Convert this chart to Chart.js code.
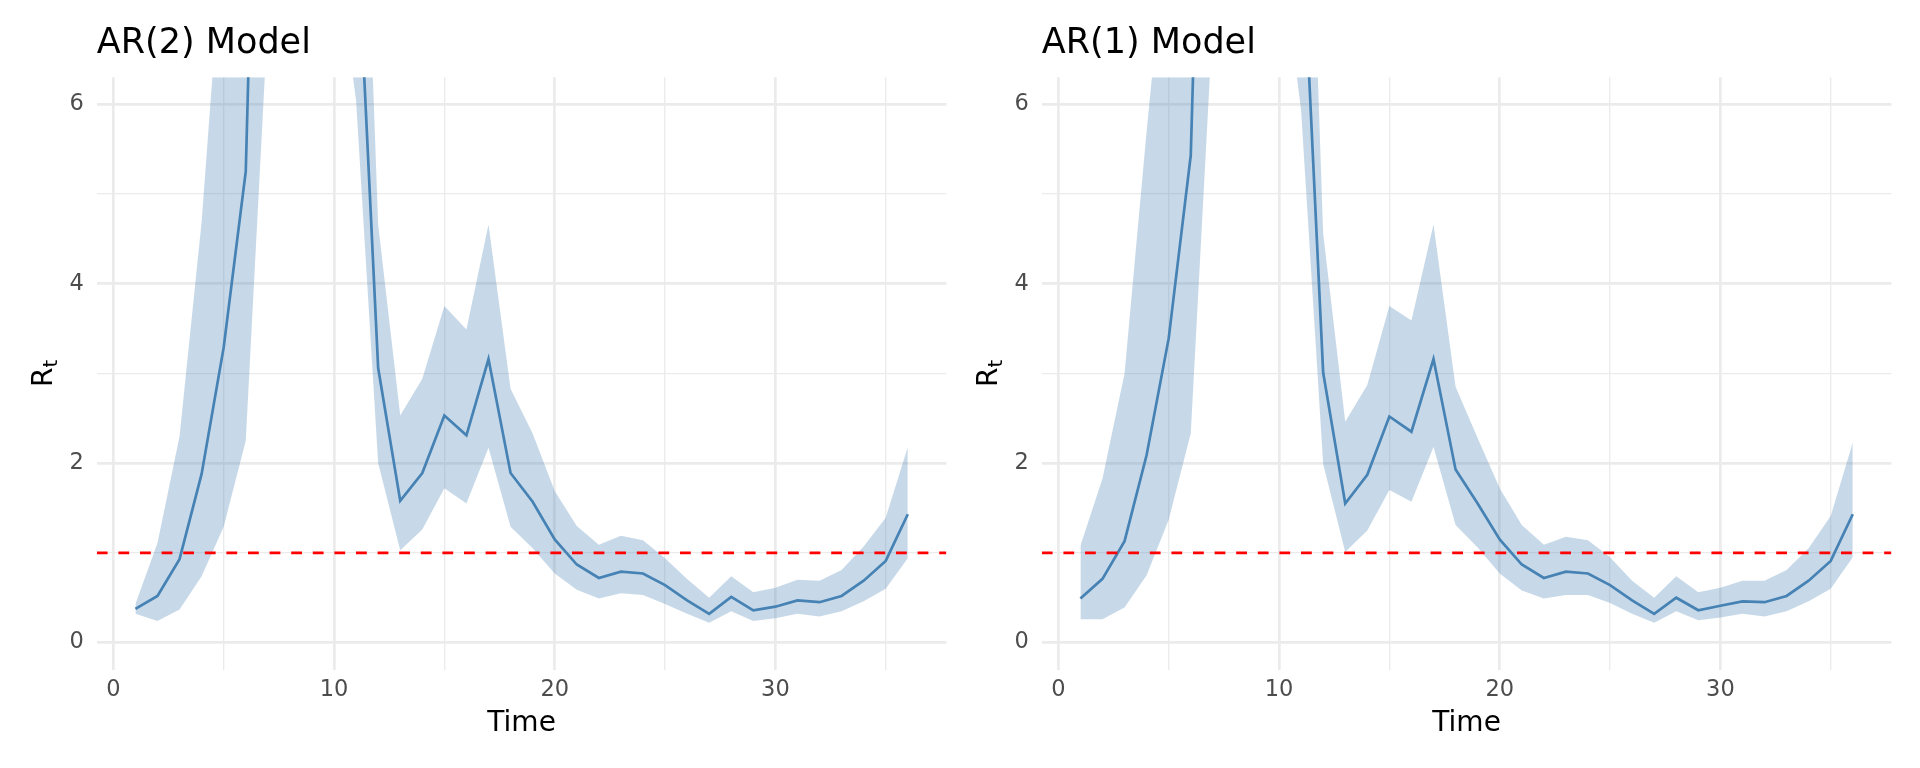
<!DOCTYPE html>
<html lang="en">
<head>
  <meta charset="UTF-8">
  <title>Rt – AR(2) vs AR(1)</title>
  <script src="https://cdn.jsdelivr.net/npm/chart.js"></script>
  <style>
    body { margin: 0; background: #fff; }
    #wrap { position: relative; width: 1920px; height: 768px; overflow: hidden; }
    canvas { position: absolute; top: 0; }
    #ar2 { left: 0; }
    #ar1 { left: 945px; }
  </style>
</head>
<body>
  <div id="wrap">
    <canvas id="ar2" width="960" height="768"></canvas>
    <canvas id="ar1" width="960" height="768"></canvas>
  </div>

  <script>
    const time = [1, 2, 3, 4, 5, 6, 7, 8, 9, 10, 11, 12, 13, 14, 15, 16, 17, 18,
                  19, 20, 21, 22, 23, 24, 25, 26, 27, 28, 29, 30, 31, 32, 33, 34, 35, 36];

    // AR(2) posterior mean and interval (values above 6.3 fall outside the panel)
    const ar2Mean  = [0.375, 0.52, 0.93, 1.88, 3.29, 5.25, 14.5, 22, 26, 18, 8.2, 3.06,
                      1.58, 1.89, 2.53, 2.31, 3.16, 1.89, 1.57, 1.15, 0.87, 0.72, 0.79, 0.77,
                      0.64, 0.47, 0.32, 0.51, 0.36, 0.40, 0.47, 0.45, 0.52, 0.69, 0.91, 1.43];
    const ar2Upper = [0.43, 1.11, 2.30, 4.69, 8.0, 14, 30, 45, 50, 38, 11.5, 4.66,
                      2.53, 2.94, 3.75, 3.49, 4.66, 2.83, 2.33, 1.69, 1.30, 1.09, 1.19, 1.14,
                      0.94, 0.71, 0.50, 0.74, 0.56, 0.61, 0.70, 0.69, 0.81, 1.07, 1.39, 2.18];
    const ar2Lower = [0.32, 0.24, 0.37, 0.74, 1.29, 2.25, 6.95, 12, 14, 7.9, 6.04, 2.0,
                      1.03, 1.26, 1.72, 1.55, 2.17, 1.29, 1.05, 0.77, 0.59, 0.49, 0.55, 0.53,
                      0.43, 0.32, 0.22, 0.35, 0.24, 0.27, 0.32, 0.29, 0.35, 0.46, 0.60, 0.94];

    // AR(1)
    const ar1Mean  = [0.49, 0.71, 1.13, 2.09, 3.39, 5.43, 14, 22, 26, 18, 8.2, 3.01,
                      1.55, 1.87, 2.52, 2.35, 3.16, 1.93, 1.55, 1.15, 0.87, 0.72, 0.79, 0.77,
                      0.64, 0.47, 0.32, 0.50, 0.36, 0.41, 0.46, 0.45, 0.52, 0.69, 0.91, 1.43];
    const ar1Upper = [1.08, 1.83, 3.0, 5.7, 8.2, 14, 30, 45, 50, 38, 11.8, 4.56,
                      2.46, 2.87, 3.75, 3.59, 4.66, 2.85, 2.28, 1.72, 1.31, 1.09, 1.18, 1.14,
                      0.95, 0.69, 0.50, 0.74, 0.56, 0.61, 0.69, 0.69, 0.81, 1.05, 1.41, 2.23];
    const ar1Lower = [0.26, 0.26, 0.39, 0.75, 1.37, 2.33, 6.93, 12, 14, 7.9, 5.93, 1.99,
                      1.01, 1.25, 1.70, 1.57, 2.18, 1.31, 1.06, 0.77, 0.58, 0.49, 0.53, 0.53,
                      0.44, 0.32, 0.22, 0.35, 0.25, 0.28, 0.32, 0.29, 0.35, 0.46, 0.60, 0.95];

    const refLevel = 1;
    const xMajor = [0, 10, 20, 30];
    const xMinor = [5, 15, 25, 35];
    const yMajor = [0, 2, 4, 6];
    const yMinor = [1, 3, 5];
    const xRange = [-0.75, 37.75];
    const yRange = [-0.3, 6.3];
    const xTitle = 'Time';
    const yTitle = 'R';
    const yTitleSub = 't';

    Chart.defaults.font.family = '"DejaVu Sans", sans-serif';

    const steel = '#4682B4';
    const gridColor = '#EBEBEB';

    function gridWidth(major) {
      return c => (c.tick && major.includes(c.tick.value)) ? 2.7 : 1.35;
    }

    // R with subscript t, rotated, left of the panel
    const yTitlePlugin = {
      id: 'yTitle',
      afterDraw(chart) {
        const { ctx, chartArea } = chart;
        const cy = (chartArea.top + chartArea.bottom) / 2;
        ctx.save();
        ctx.translate(chartArea.left - 45.3, cy);
        ctx.rotate(-Math.PI / 2);
        ctx.fillStyle = '#000';
        ctx.textAlign = 'left';
        ctx.textBaseline = 'alphabetic';
        ctx.font = '28px "DejaVu Sans"';
        const wR = ctx.measureText(yTitle).width;
        ctx.font = '20px "DejaVu Sans"';
        const wT = ctx.measureText(yTitleSub).width;
        const x0 = -(wR + wT) / 2;
        ctx.font = '28px "DejaVu Sans"';
        ctx.fillText(yTitle, x0, 0);
        ctx.font = '20px "DejaVu Sans"';
        ctx.fillText(yTitleSub, x0 + wR, 5);
        ctx.restore();
      }
    };

    function makePanel(id, title, mean, lower, upper) {
      const pts = arr => time.map((t, i) => ({ x: t, y: arr[i] }));
      return new Chart(document.getElementById(id), {
        type: 'line',
        data: {
          datasets: [
            { data: pts(lower), borderWidth: 0, pointRadius: 0, fill: false, order: 4, clip: 0 },
            { data: pts(upper), borderWidth: 0, pointRadius: 0, fill: '-1',
              backgroundColor: 'rgba(70,130,180,0.3)', order: 3, clip: 0 },
            { data: pts(mean), borderColor: steel, borderWidth: 2.7, pointRadius: 0,
              fill: false, order: 2, clip: 0 },
            { data: [{ x: xRange[0], y: refLevel }, { x: xRange[1], y: refLevel }],
              borderColor: '#FF0000', borderWidth: 2.7, borderDash: [10.8, 10.8],
              pointRadius: 0, fill: false, order: 1, clip: 0 }
          ]
        },
        options: {
          responsive: false,
          animation: false,
          events: [],
          layout: { padding: { left: 0, right: 13.6, top: 0, bottom: 0 } },
          plugins: {
            legend: { display: false },
            tooltip: { enabled: false },
            title: {
              display: true, text: title, align: 'start', fullSize: false,
              color: '#000', font: { size: 35, weight: 'normal' },
              padding: { top: 23.4, bottom: 11.9 }
            }
          },
          scales: {
            x: {
              type: 'linear', min: xRange[0], max: xRange[1],
              afterBuildTicks: s => { s.ticks = xMajor.concat(xMinor).sort((a, b) => a - b).map(v => ({ value: v })); },
              afterFit: s => { s.height = 98.5; },
              ticks: {
                autoSkip: false, maxRotation: 0, padding: 7.5, color: '#4D4D4D', font: { size: 22.5 },
                callback: v => xMajor.includes(v) ? String(v) : ''
              },
              grid: { drawTicks: false, color: gridColor, lineWidth: gridWidth(xMajor) },
              border: { display: false },
              title: { display: true, text: xTitle, color: '#000', font: { size: 28 },
                       padding: { top: 0, bottom: 27.9 } }
            },
            y: {
              type: 'linear', min: yRange[0], max: yRange[1],
              afterBuildTicks: s => { s.ticks = yMajor.concat(yMinor).sort((a, b) => a - b).map(v => ({ value: v })); },
              afterFit: s => { s.width = 96.8; },
              ticks: {
                autoSkip: false, padding: 13, color: '#4D4D4D', font: { size: 22.5 },
                callback: v => yMajor.includes(v) ? String(v) : ''
              },
              grid: { drawTicks: false, color: gridColor, lineWidth: gridWidth(yMajor) },
              border: { display: false },
              title: { display: false }
            }
          }
        },
        plugins: [yTitlePlugin]
      });
    }

    makePanel('ar2', 'AR(2) Model', ar2Mean, ar2Lower, ar2Upper);
    makePanel('ar1', 'AR(1) Model', ar1Mean, ar1Lower, ar1Upper);
  </script>
</body>
</html>
